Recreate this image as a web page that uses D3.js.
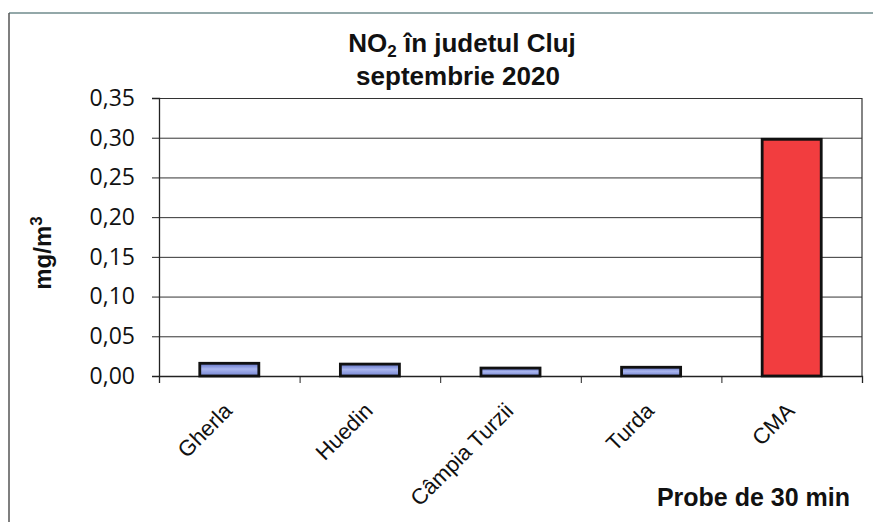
<!DOCTYPE html>
<html>
<head>
<meta charset="utf-8">
<script src="https://cdn.jsdelivr.net/npm/d3@7"></script>
<style>
  body { margin: 0; background: #fff; }
  svg { display: block; }
  .tick-label { font-family: "Open Sans", sans-serif; font-size: 23px; fill: #111; }
  .cat-label { font-family: "Liberation Sans", Arial, sans-serif; font-size: 22px; fill: #111; }
  .bold { font-family: "Liberation Sans", Arial, sans-serif; font-weight: bold; fill: #111; }
</style>
</head>
<body>
<svg id="chart"></svg>
<script>
const stations = ["Gherla", "Huedin", "Câmpia Turzii", "Turda", "CMA"];
const no2Values = [0.016, 0.015, 0.010, 0.011, 0.298];
const barColours = ["blue", "blue", "blue", "blue", "red"];
const yTicks = [0, 0.05, 0.10, 0.15, 0.20, 0.25, 0.30, 0.35];

const chartSize = { width: 873, height: 522 };
const margin = { left: 159, right: 11, top: 98, bottom: 146 };
const width = chartSize.width - margin.left - margin.right;
const height = chartSize.height - margin.top - margin.bottom;

const svg = d3.select("#chart")
  .attr("width", chartSize.width)
  .attr("height", chartSize.height);

// gradient for the blue bars
const defs = svg.append("defs");
const grad = defs.append("linearGradient")
  .attr("id", "blueGrad")
  .attr("x1", 0).attr("y1", 0).attr("x2", 0).attr("y2", 1);
grad.append("stop").attr("offset", "0%").attr("stop-color", "#5d6fc4");
grad.append("stop").attr("offset", "45%").attr("stop-color", "#aab6ee");
grad.append("stop").attr("offset", "100%").attr("stop-color", "#7484d2");
const fills = { blue: "url(#blueGrad)", red: "#f23d3f" };

// outer chart frame (top and left edges visible)
svg.append("line").attr("x1", 9).attr("x2", chartSize.width).attr("y1", 13).attr("y2", 13)
  .attr("stroke", "#6f8b8c").attr("stroke-width", 1.5);
svg.append("line").attr("x1", 9).attr("x2", 9).attr("y1", 13).attr("y2", chartSize.height)
  .attr("stroke", "#555").attr("stroke-width", 1.5);

const g = svg.append("g").attr("transform", `translate(${margin.left},${margin.top})`);

const y = d3.scaleLinear().domain([0, 0.35]).range([height, 0]);
const x = d3.scaleBand()
  .domain(stations)
  .range([0, width])
  .paddingInner(0.58)
  .paddingOuter(0.29);
const xEdges = d3.scaleLinear().domain([0, stations.length]).range([0, width]);

// gridlines
g.append("g")
  .attr("class", "grid")
  .call(d3.axisLeft(y).tickValues(yTicks).tickSize(-width).tickFormat(""))
  .call(s => s.select(".domain").remove())
  .call(s => s.selectAll("line").attr("stroke", "#333").attr("stroke-width", 1));

// right border of plot
g.append("line").attr("x1", width).attr("x2", width).attr("y1", 0).attr("y2", height)
  .attr("stroke", "#333").attr("stroke-width", 1.2);

// y axis
g.append("g")
  .call(d3.axisLeft(y).tickValues(yTicks).tickSize(7).tickPadding(17)
    .tickFormat(d => d.toFixed(2).replace(".", ",")))
  .call(s => s.select(".domain").attr("stroke", "#222").attr("stroke-width", 1.3))
  .call(s => s.selectAll("line").attr("stroke", "#222"))
  .call(s => s.selectAll("text").attr("class", "tick-label").attr("fill", null));

// x axis (ticks at category edges)
g.append("g")
  .attr("transform", `translate(0,${height})`)
  .call(d3.axisBottom(xEdges).tickValues(d3.range(stations.length + 1)).tickSize(7).tickFormat(""))
  .call(s => s.select(".domain").attr("stroke", "#222").attr("stroke-width", 1.3))
  .call(s => s.selectAll("line").attr("stroke", "#222"));

// bars
g.selectAll("rect.bar")
  .data(stations)
  .enter()
  .append("rect")
  .attr("class", "bar")
  .attr("x", d => x(d))
  .attr("y", (d, i) => y(no2Values[i]))
  .attr("width", x.bandwidth())
  .attr("height", (d, i) => height - y(no2Values[i]))
  .attr("fill", (d, i) => fills[barColours[i]])
  .attr("stroke", "#111")
  .attr("stroke-width", 2.8);

// category labels
g.selectAll("text.cat-label")
  .data(stations)
  .enter()
  .append("text")
  .attr("class", "cat-label")
  .attr("text-anchor", "end")
  .attr("transform", d => `translate(${x(d) + x.bandwidth() / 2 - 7},${height + 25}) rotate(-45)`)
  .attr("dy", "0.72em")
  .text(d => d);

// title
const title = svg.append("text").attr("class", "bold").attr("font-size", 26)
  .attr("text-anchor", "middle").attr("x", 462).attr("y", 52);
title.append("tspan").text("NO");
title.append("tspan").attr("font-size", 17).attr("dy", 5).text("2");
title.append("tspan").attr("dy", -5).text(" în judetul Cluj");
svg.append("text").attr("class", "bold").attr("font-size", 26)
  .attr("text-anchor", "middle").attr("x", 458).attr("y", 85)
  .text("septembrie 2020");

// y axis title
const yTitle = svg.append("text").attr("class", "bold").attr("font-size", 24)
  .attr("text-anchor", "middle")
  .attr("transform", "translate(51,253) rotate(-90)");
yTitle.append("tspan").text("mg/m");
yTitle.append("tspan").attr("font-size", 17).attr("dy", -9).text("3");

// x axis title
svg.append("text").attr("class", "bold").attr("font-size", 25)
  .attr("text-anchor", "end").attr("x", 850).attr("y", 506)
  .text("Probe de 30 min");
</script>
</body>
</html>
